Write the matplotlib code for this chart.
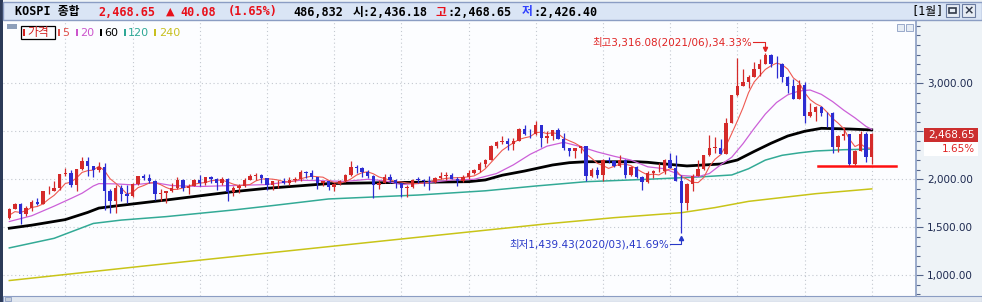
import numpy as np
import pandas as pd
import matplotlib
matplotlib.use("Agg")
import matplotlib.pyplot as plt
from matplotlib.patches import Rectangle
from matplotlib.ticker import MultipleLocator

plt.rcParams['font.family'] = ['DejaVu Sans', 'Noto Sans CJK KR']

W, H = 982, 302

# monthly KOSPI candles, 2010/03 .. 2023/01
opens = [1594, 1693, 1742, 1641, 1698, 1759, 1743, 1873, 1883, 1905,
         2051, 2070, 1939, 2107, 2192, 2142, 2101, 2133, 1880, 1770, 1909, 1848,
         1826, 1956, 2030, 2014, 1982, 1843, 1854, 1881, 1905, 1996, 1912, 1933,
         1997, 1962, 2026, 2005, 1964, 2001, 1863, 1914, 1926, 1997, 2030, 2045,
         2011, 1941, 1980, 1986, 1962, 1995, 2002, 2076, 2069, 2020, 1964, 1981,
         1916, 1949, 1986, 2041, 2127, 2115, 2074, 2030, 1941, 1963, 2029, 1992,
         1961, 1912, 1917, 1996, 1994, 1983, 1970, 2016, 2035, 2044, 2008, 1983,
         2026, 2068, 2092, 2160, 2205, 2347, 2392, 2403, 2363, 2394, 2523, 2476,
         2467, 2566, 2427, 2446, 2515, 2423, 2326, 2295, 2323, 2343, 2030, 2097,
         2041, 2205, 2195, 2141, 2204, 2042, 2131, 2025, 1968, 2063, 2083, 2088,
         2198, 2119, 1987, 1755, 1948, 2030, 2108, 2249, 2326, 2328, 2267, 2591,
         2873, 2976, 3013, 3061, 3148, 3204, 3297, 3202, 3199, 3069, 2971, 2839,
         2978, 2663, 2699, 2758, 2695, 2686, 2333, 2452, 2472, 2155, 2294, 2473,
         2236]
highs = [1705, 1757, 1752, 1719, 1781, 1805, 1873, 1925, 1978, 2052,
         2117, 2098, 2107, 2231, 2228, 2142, 2183, 2173, 1894, 1941, 1941, 1939,
         1962, 2036, 2057, 2050, 1994, 1904, 1878, 1964, 2022, 2008, 1946, 2004,
         2042, 2026, 2033, 2013, 2019, 2014, 1925, 1953, 2016, 2059, 2063, 2050,
         2013, 1983, 1997, 2018, 2027, 2020, 2093, 2085, 2093, 2020, 1986, 1985,
         1963, 1993, 2053, 2189, 2146, 2126, 2101, 2045, 1989, 2053, 2053, 2002,
         1961, 1945, 2003, 2022, 2000, 2032, 2028, 2073, 2074, 2068, 2022, 2049,
         2093, 2104, 2179, 2215, 2355, 2402, 2453, 2430, 2429, 2534, 2562, 2520,
         2607, 2568, 2500, 2515, 2537, 2478, 2330, 2325, 2351, 2344, 2120, 2129,
         2211, 2231, 2197, 2253, 2210, 2135, 2135, 2032, 2090, 2096, 2172, 2208,
         2277, 2256, 2040, 1957, 2055, 2200, 2251, 2458, 2439, 2418, 2634, 2882,
         3266, 3146, 3087, 3220, 3249, 3316.08, 3305, 3285, 3212, 3072, 3042, 3037,
         3010, 2791, 2766, 2765, 2699, 2704, 2463, 2546, 2474, 2302, 2503, 2490,
         2485]
lows = [1587, 1690, 1532, 1620, 1673, 1728, 1740, 1850, 1873, 1890,
        2037, 1916, 1882, 2100, 2034, 2023, 2080, 1684, 1644, 1652, 1772, 1758,
        1820, 1945, 1996, 1966, 1780, 1770, 1758, 1871, 1897, 1880, 1851, 1930,
        1933, 1937, 1963, 1890, 1944, 1770, 1825, 1854, 1918, 1995, 1990, 1960,
        1890, 1886, 1912, 1955, 1940, 1967, 1983, 2017, 2008, 1900, 1925, 1886,
        1876, 1937, 1974, 2030, 2070, 2026, 2010, 1800, 1895, 1958, 1965, 1910,
        1817, 1817, 1910, 1966, 1935, 1892, 1958, 2000, 1990, 1999, 1931, 1967,
        2004, 2055, 2076, 2125, 2204, 2326, 2370, 2300, 2310, 2394, 2460, 2427,
        2460, 2337, 2380, 2412, 2420, 2308, 2244, 2220, 2279, 1985, 2020, 2010,
        1984, 2165, 2123, 2130, 2016, 2035, 2010, 1891, 1966, 2011, 2079, 2058,
        2119, 1985, 1439.43, 1685, 1878, 2030, 2100, 2245, 2272, 2265, 2267, 2591,
        2870, 2970, 2955, 3061, 3072, 3200, 3175, 3060, 3015, 2901, 2838, 2837,
        2591, 2650, 2608, 2660, 2546, 2276, 2288, 2411, 2134, 2150, 2290, 2180,
        2155]
closes = [1693, 1742, 1641, 1698, 1759, 1743, 1873, 1883, 1905, 2051,
          2070, 1939, 2107, 2192, 2142, 2101, 2133, 1880, 1770, 1909, 1848, 1826,
          1956, 2030, 2014, 1982, 1843, 1854, 1881, 1905, 1996, 1912, 1933, 1997,
          1962, 2026, 2005, 1964, 2001, 1863, 1914, 1926, 1997, 2030, 2045, 2011,
          1941, 1980, 1986, 1962, 1995, 2002, 2076, 2069, 2020, 1964, 1981, 1916,
          1949, 1986, 2041, 2127, 2115, 2074, 2030, 1941, 1963, 2029, 1992, 1961,
          1912, 1917, 1996, 1994, 1983, 1970, 2016, 2035, 2044, 2008, 1983, 2026,
          2068, 2092, 2160, 2205, 2347, 2392, 2403, 2363, 2394, 2523, 2476, 2467,
          2566, 2427, 2446, 2515, 2423, 2326, 2295, 2323, 2343, 2030, 2097, 2041,
          2205, 2195, 2141, 2204, 2042, 2131, 2025, 1968, 2063, 2083, 2088, 2198,
          2119, 1987, 1755, 1948, 2030, 2108, 2249, 2326, 2328, 2267, 2591, 2873,
          2976, 3013, 3061, 3148, 3204, 3297, 3202, 3199, 3069, 2971, 2839, 2978,
          2663, 2699, 2758, 2695, 2686, 2333, 2452, 2472, 2155, 2294, 2473, 2236,
          2468.65]
pre_closes = [1555.6, 1682.8, 1602.4, 1594.6]   # 2009/11 .. 2010/02 for the 5 month line

# longer averages (month index, value)
ma20_idx = [0, 4, 8, 11, 13, 15, 16, 19, 22, 26, 29, 34, 40, 46, 52, 56, 60, 64, 67, 70, 74, 79,
            83, 87, 90, 93, 96, 99, 102, 105, 108, 111, 114, 117, 120, 123, 125, 127, 129, 131,
            133, 135, 137, 139, 141, 143, 145, 147, 149, 151, 153, 154]
ma20_val = [1560, 1620, 1720, 1800, 1855, 1930, 1955, 1952, 1942, 1965, 1935, 1925, 1935, 1945,
            1990, 1985, 1978, 2000, 1985, 1945, 1960, 1993, 2000, 2060, 2150, 2260, 2345, 2385,
            2340, 2285, 2240, 2200, 2130, 2110, 2040, 2027, 2060, 2150, 2230, 2370, 2530, 2680,
            2800, 2880, 2920, 2930, 2885, 2810, 2720, 2640, 2550, 2520]
ma60_idx = [0, 4, 10, 14, 16, 19, 28, 40, 46, 57, 67, 82, 85, 88, 92, 97, 100, 103, 112, 114,
            116, 121, 127, 130, 133, 136, 139, 142, 145, 150, 154]
ma60_val = [1490, 1522, 1580, 1655, 1700, 1722, 1784, 1871, 1906, 1955, 1965, 1975, 1993, 2042,
            2086, 2149, 2173, 2183, 2183, 2177, 2165, 2139, 2159, 2201, 2290, 2375, 2451, 2500,
            2531, 2524, 2514]
ma120_idx = [0, 8, 15, 20, 28, 40, 47, 57, 73, 85, 94, 103, 114, 124, 129, 132, 135, 138, 141,
             144, 149, 154]
ma120_val = [1285, 1385, 1540, 1575, 1611, 1680, 1726, 1795, 1836, 1880, 1930, 1975, 2000, 2027,
             2045, 2110, 2200, 2250, 2275, 2295, 2308, 2315]
ma240_idx = [0, 24, 48, 72, 96, 108, 120, 126, 132, 138, 144, 150, 154]
ma240_val = [945, 1096, 1243, 1390, 1536, 1600, 1652, 1705, 1770, 1810, 1850, 1880, 1900]

support_level = 2134
support_span = [144.4, 158.3]

yticks = [1000, 1500, 2000, 2500, 3000]

o = np.array(opens, float)
h = np.array(highs, float)
l = np.array(lows, float)
c = np.array(closes, float)
idx = np.arange(len(c))
ma5 = pd.Series(pre_closes + closes).rolling(5).mean().values[len(pre_closes):]

RED, BLUE = '#d42a2a', '#2c2cd2'

fig = plt.figure(figsize=(W / 100, H / 100), dpi=100, facecolor='#eef3f7')


def fx(x):
    return x / W


def fy(y):
    return 1 - y / H


def box(x0, y0, x1, y1, **kw):
    fig.patches.append(Rectangle((fx(x0), fy(y1)), (x1 - x0) / W, (y1 - y0) / H,
                                 transform=fig.transFigure, figure=fig, **kw))


ax = fig.add_axes([3 / W, 6 / H, 913 / W, 277 / H])
ax.set_facecolor('#fcfdff')
ax.set_xlim(-1.125, 161.9)
ax.set_ylim(784, 3670)

# grid: every January and every 500 points
ax.set_xticks(idx[10::12])
ax.tick_params(axis='x', length=0, labelbottom=False)
ax.yaxis.tick_right()
ax.set_yticks(yticks)
# the 2,500 label sits under the price tag in the original, so it is left blank
ax.set_yticklabels(['' if v == 2500 else f'{v:,.2f}' for v in yticks])
ax.yaxis.set_minor_locator(MultipleLocator(100))
ax.tick_params(axis='y', which='major', length=5, width=0.8, color='#55658a',
               labelsize=7.5, labelcolor='#1d2950', pad=3)
ax.tick_params(axis='y', which='minor', length=3, width=0.8, color='#55658a')
ax.grid(True, which='major', color='#c3c8d0', linestyle=(0, (1, 2.5)), linewidth=0.8)
ax.set_axisbelow(True)
for s in ['left', 'top', 'bottom']:
    ax.spines[s].set_visible(False)
ax.spines['right'].set_color('#8b9dc3')
ax.spines['right'].set_linewidth(1.2)

# moving averages
ax.plot(ma240_idx, ma240_val, color='#c8c418', lw=1.1, zorder=2)
ax.plot(ma120_idx, ma120_val, color='#33aa96', lw=1.1, zorder=2)
ax.plot(ma60_idx, ma60_val, color='black', lw=2.0, zorder=3)
ax.plot(ma20_idx, ma20_val, color='#cc60d8', lw=0.9, zorder=3)
ax.plot(idx, ma5, color='#ef5a52', lw=0.8, zorder=4)

# candles
cols = np.where(c >= o, RED, BLUE)
ax.vlines(idx, l, h, colors=cols, lw=0.9, zorder=5)
body = np.maximum(np.abs(c - o), 6)
ax.bar(idx, body, bottom=np.minimum(o, c), width=0.6, color=cols, lw=0, zorder=6)

# support line
ax.plot(support_span, [support_level, support_level], color='#ff1010', lw=1.8, zorder=7)

# high / low annotations
i_hi = int(np.argmax(h))
hi = h[i_hi]
ax.text(i_hi - 2.35, hi + 110, '최고3,316.08(2021/06),34.33%', color='#e02424',
        fontsize=7.5, ha='right', va='center', zorder=8)
ax.plot([i_hi - 2.2, i_hi, i_hi], [hi + 110, hi + 110, hi + 40], color='#e02424', lw=0.8, zorder=8)
ax.plot([i_hi], [hi + 38], marker='v', ms=3, color='#e02424', zorder=8)

i_lo = int(np.argmin(l))
lo = l[i_lo]
ax.text(i_lo - 2.25, lo - 113, '최저1,439.43(2020/03),41.69%', color='#2838c8',
        fontsize=7.5, ha='right', va='center', zorder=8)
ax.plot([i_lo - 2.1, i_lo, i_lo], [lo - 113, lo - 113, lo - 50], color='#2838c8', lw=0.8, zorder=8)
ax.plot([i_lo], [lo - 48], marker='^', ms=3, color='#2838c8', zorder=8)

# window frame
box(0, 0, 3, H, color='#2b3a58', lw=0)
box(3, 2, W, 20, facecolor='#dae5f5', edgecolor='#8b9dc3', lw=1)
box(3, 296, W, H, facecolor='#e2e8f0', edgecolor='#8b9dc3', lw=0.8)
box(5, 297, 11, 301, facecolor='#c8d0dc', edgecolor='#8b9dc3', lw=0.6)

# header
hdr = dict(fontsize=8.5, fontweight='bold', va='center',
           family=['DejaVu Sans Mono', 'Noto Sans CJK KR'])
fig.text(fx(15), fy(12), 'KOSPI 종합', color='black', **hdr)
fig.text(fx(98), fy(12), '2,468.65', color='#e8101a', **hdr)
fig.text(fx(166), fy(12), '▲', color='#e8101a', fontsize=8, va='center')
fig.text(fx(180), fy(12), '40.08', color='#e8101a', **hdr)
fig.text(fx(228), fy(12), '(1.65%)', color='#e8101a', **hdr)
fig.text(fx(293), fy(12), '486,832', color='black', **hdr)
fig.text(fx(353), fy(12), '시:2,436.18', color='black', **hdr)
fig.text(fx(436), fy(12), '고', color='#e8101a', **hdr)
fig.text(fx(447), fy(12), ':2,468.65', color='black', **hdr)
fig.text(fx(522), fy(12), '저', color='#3040ff', **hdr)
fig.text(fx(533), fy(12), ':2,426.40', color='black', **hdr)
fig.text(fx(911), fy(12), '[1월]', color='black', fontsize=8.5, va='center',
         family=['DejaVu Sans Mono', 'Noto Sans CJK KR'])
box(946, 4, 959, 17, facecolor='#e6ecf4', edgecolor='#6b7ca0', lw=0.8)
box(949, 8, 956, 13, facecolor='none', edgecolor='#303848', lw=1.2)
box(962, 4, 975, 17, facecolor='#e6ecf4', edgecolor='#6b7ca0', lw=0.8)
fig.text(fx(968.5), fy(10.5), '×', color='#303848', fontsize=9, fontweight='bold',
         ha='center', va='center')

# small buttons inside the chart
box(897, 24, 904, 31, facecolor='#e6ecf4', edgecolor='#8b9dc3', lw=0.6)
box(906, 24, 913, 31, facecolor='#e6ecf4', edgecolor='#8b9dc3', lw=0.6)

# legend
box(7, 24, 17, 29, color='#8d9fba', lw=0)
box(21, 26, 55, 39, facecolor='none', edgecolor='black', lw=0.9)
leg = [(23, 27, '가격', '#d42020'), (58, 62, '5', '#e0504a'), (76, 80, '20', '#cc55cc'),
       (100, 104, '60', 'black'), (124, 128, '120', '#2fa896'), (154, 159, '240', '#c8c020')]
for bx, tx, name, col in leg:
    box(bx, 29, bx + 2, 36, color=col, lw=0)
    fig.text(fx(tx), fy(32.5), name, color=col, fontsize=8.5 if name == '가격' else 8,
             va='center')

# current price tag
box(924, 128, 978, 142, color='#cc2e2e', lw=0)
box(924, 142, 978, 156, color='white', lw=0)
fig.text(fx(975), fy(135), '2,468.65', color='white', fontsize=7.5, ha='right', va='center')
fig.text(fx(975), fy(149), '1.65%', color='#e02424', fontsize=7.5, ha='right', va='center')

fig.savefig('out.png', dpi=100, facecolor=fig.get_facecolor())
